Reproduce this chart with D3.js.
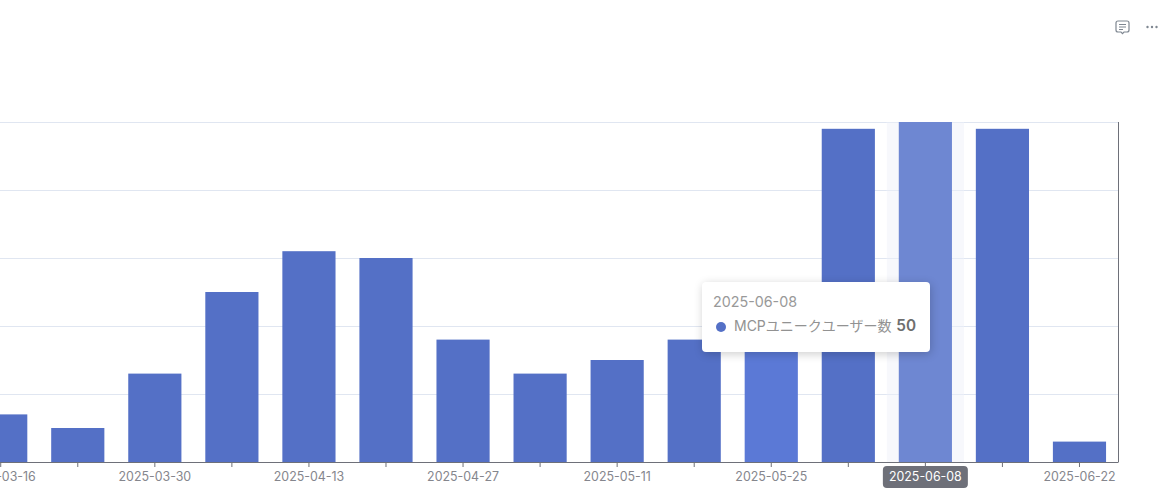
<!DOCTYPE html>
<html><head><meta charset="utf-8">
<script src="https://cdn.jsdelivr.net/npm/d3@7/dist/d3.min.js"></script>
<style>
html,body{margin:0;padding:0;background:#fff;overflow:hidden}
#c{position:relative;width:1173px;height:490px;overflow:hidden}
svg{position:absolute;left:0;top:0}
text{font-family:Inter,"Noto Sans CJK JP",sans-serif}
#tip{position:absolute;left:702px;top:282px;width:228px;height:70px;box-sizing:border-box;background:#fff;border-radius:4px;box-shadow:1px 2px 10px rgba(0,0,0,.2);font-family:Inter,"Noto Sans CJK JP",sans-serif;color:#8f8f8f}
#tip .d{position:absolute;left:11px;top:11px;font-size:14.3px;line-height:18px;color:#999}
#tip .dot{position:absolute;left:14px;top:40px;width:10px;height:10px;border-radius:50%;background:#5470c6}
#tip .n{position:absolute;left:32px;top:35px;font-size:14px;line-height:18px;white-space:nowrap;color:#929292}
#tip .v{position:absolute;right:14px;top:35px;font-size:15.3px;line-height:18px;font-weight:600;color:#6e6e6e}
</style></head><body>
<div id="c"></div>
<script>
const categories=["2025-03-16","2025-03-23","2025-03-30","2025-04-06","2025-04-13","2025-04-20","2025-04-27","2025-05-04","2025-05-11","2025-05-18","2025-05-25","2025-06-01","2025-06-08","2025-06-15","2025-06-22"];
const values=[7,5,13,25,31,30,18,13,15,18,20,49,50,49,3];
const yTicks=[0,10,20,30,40,50];
const seriesName="MCPユニークユーザー数";
const activeCategory="2025-06-08";
const hoverCategory="2025-05-25";

const W=1173,H=490;
const root=d3.select("#c");
const svg=root.append("svg").attr("width",W).attr("height",H);
const x=d3.scaleBand().domain(categories).range([-37.8,1118]).paddingInner(0.31).paddingOuter(0.155);
const y=d3.scaleLinear().domain([0,50]).range([462,122]);

// grid
svg.append("g").selectAll("line").data(yTicks.filter(d=>d>0)).join("line")
 .attr("x1",0).attr("x2",1118).attr("y1",d=>y(d)+0.5).attr("y2",d=>y(d)+0.5)
 .attr("stroke","#e0e6f1").attr("stroke-width",1);

// shadow pointer
const step=x.step();
svg.append("rect").attr("x",x(activeCategory)+x.bandwidth()/2-step/2).attr("y",122).attr("width",step).attr("height",340)
 .attr("fill","#f7f8fc");
svg.selectAll("line.g2").data(yTicks.filter(d=>d>0)).join("line").attr("class","g2")
 .attr("x1",x(activeCategory)+x.bandwidth()/2-step/2).attr("x2",x(activeCategory)+x.bandwidth()/2+step/2)
 .attr("y1",d=>y(d)+0.5).attr("y2",d=>y(d)+0.5).attr("stroke","#e6ebf5");

// bars
svg.append("g").selectAll("rect").data(categories).join("rect")
 .attr("x",d=>x(d)).attr("width",x.bandwidth())
 .attr("y",(d,i)=>y(values[i])).attr("height",(d,i)=>y(0)-y(values[i]))
 .attr("fill",d=>d===activeCategory?"#6e87d2":d===hoverCategory?"#5b79d6":"#5470c6");

// right axis line
svg.append("line").attr("x1",1118.5).attr("x2",1118.5).attr("y1",122).attr("y2",462).attr("stroke","#6e7079");

// x axis
const ax=d3.axisBottom(x).tickSize(5).tickPadding(3).tickFormat((d,i)=>i%2===0?d:"");
const g=svg.append("g").attr("transform","translate(0,462)").call(ax);
g.select(".domain").attr("stroke","#6e7079").attr("d","M-38,0.5H1118.5");
g.selectAll(".tick line").attr("stroke","#6e7079");
g.selectAll(".tick text").attr("fill","#85868d").attr("font-size",12.4).attr("font-family",'Inter,"Noto Sans CJK JP",sans-serif').attr("dy",null).attr("y",19);

// axis pointer label
const ac=x(activeCategory)+x.bandwidth()/2;
svg.append("rect").attr("x",ac-42.5).attr("y",466).attr("width",85).attr("height",22).attr("rx",4).attr("fill","#6e7079");
svg.append("text").attr("x",ac).attr("y",481).attr("text-anchor","middle").attr("font-size",12.4).attr("fill","#fff").text(activeCategory);

// toolbar icons
const ic=svg.append("g").attr("transform","translate(0,-1)");
ic.append("path").attr("d","M1118,22h9a2,2 0 0 1 2,2v7a2,2 0 0 1 -2,2h-3l-1.5,1.6l-1.5,-1.6h-3a2,2 0 0 1 -2,-2v-7a2,2 0 0 1 2,-2z").attr("fill","none").attr("stroke","#7f8791").attr("stroke-width",1.2);
ic.append("path").attr("d","M1119,25.5h7M1119,28h7M1119,30.5h4").attr("stroke","#7f8791").attr("stroke-width",1);
ic.selectAll("circle").data([1147.5,1152,1156.5]).join("circle").attr("cx",d=>d).attr("cy",28).attr("r",1.2).attr("fill","#7f8791");

// tooltip
const i=categories.indexOf(activeCategory);
const tip=root.append("div").attr("id","tip");
tip.append("div").attr("class","d").text(activeCategory);
tip.append("div").attr("class","dot");
tip.append("div").attr("class","n").text(seriesName);
tip.append("div").attr("class","v").text(values[i]);
</script>
</body></html>
